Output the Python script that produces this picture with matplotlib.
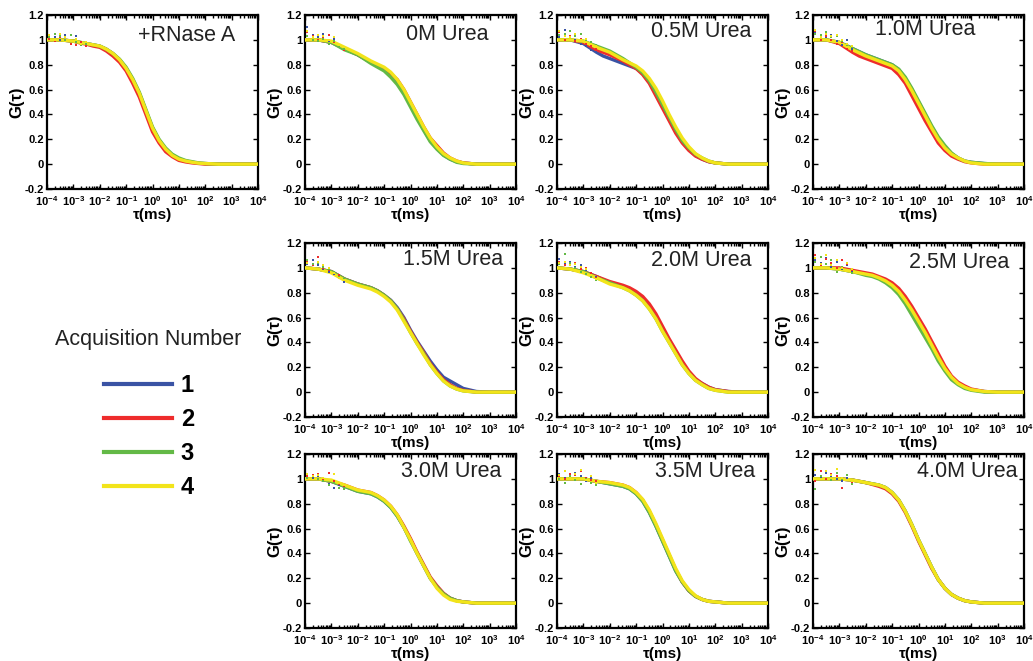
import matplotlib
matplotlib.use('Agg')
import matplotlib.pyplot as plt
from matplotlib.lines import Line2D
from matplotlib.ticker import FixedLocator, LogLocator, NullFormatter

plt.rcParams['font.family'] = ['Liberation Sans', 'DejaVu Sans']
plt.rcParams['mathtext.fontset'] = 'custom'
plt.rcParams['mathtext.rm'] = 'Liberation Sans:bold'
plt.rcParams['mathtext.it'] = 'Liberation Sans:bold'
plt.rcParams['mathtext.bf'] = 'Liberation Sans:bold'

# lag times (ms): quarter decades from 1e-3 to 1e2, half decades outside
tau_ms = [1e-4, 3.16e-4, 1e-3, 1.78e-3, 3.16e-3, 5.62e-3, 1e-2, 1.78e-2, 3.16e-2, 5.62e-2,
          0.1, 0.178, 0.316, 0.562, 1.0, 1.78, 3.16, 5.62, 10.0, 17.8, 31.6, 56.2, 100.0,
          316.0, 1e3, 3.16e3, 1e4]
# lag times of the noisy early points
tau_dots = [1.2e-4, 2e-4, 3e-4, 5e-4, 8e-4, 1.3e-3, 2e-3, 3e-3]

acq_labels = ['1', '2', '3', '4']
acq_colors = ['#3A53A4', '#EE2C2C', '#63B946', '#F2E41A']

# normalised G(tau), one row per acquisition (1..4)
g_rnase = [[1.00, 1.00, 0.99, 0.98, 0.97, 0.96, 0.95, 0.925, 0.89, 0.84, 0.77, 0.68, 0.57, 0.43, 0.29, 0.19, 0.12, 0.07, 0.04, 0.025, 0.015, 0.008, 0.005, 0.0, 0.0, 0.0, 0.0],
           [1.00, 1.00, 0.99, 0.975, 0.965, 0.95, 0.94, 0.91, 0.87, 0.82, 0.75, 0.65, 0.54, 0.40, 0.26, 0.17, 0.10, 0.06, 0.03, 0.018, 0.01, 0.005, 0.0, 0.0, 0.0, 0.0, 0.0],
           [1.00, 1.00, 0.99, 0.98, 0.97, 0.96, 0.95, 0.925, 0.89, 0.845, 0.78, 0.69, 0.58, 0.44, 0.30, 0.20, 0.13, 0.08, 0.05, 0.03, 0.02, 0.01, 0.005, 0.0, 0.0, 0.0, 0.0],
           [1.00, 1.00, 0.99, 0.98, 0.97, 0.96, 0.95, 0.925, 0.89, 0.84, 0.77, 0.68, 0.57, 0.43, 0.29, 0.19, 0.12, 0.07, 0.04, 0.025, 0.015, 0.008, 0.005, 0.0, 0.0, 0.0, 0.0]]
g_0m = [[1.00, 1.00, 0.98, 0.955, 0.93, 0.905, 0.88, 0.85, 0.82, 0.79, 0.76, 0.72, 0.66, 0.58, 0.48, 0.38, 0.28, 0.19, 0.13, 0.075, 0.04, 0.02, 0.01, 0.0, 0.0, 0.0, 0.0],
        [1.00, 1.00, 0.98, 0.955, 0.93, 0.905, 0.88, 0.85, 0.82, 0.795, 0.77, 0.73, 0.68, 0.60, 0.50, 0.40, 0.30, 0.21, 0.15, 0.09, 0.05, 0.025, 0.01, 0.0, 0.0, 0.0, 0.0],
        [1.00, 1.00, 0.98, 0.95, 0.92, 0.90, 0.88, 0.845, 0.81, 0.78, 0.75, 0.70, 0.64, 0.56, 0.46, 0.36, 0.27, 0.18, 0.12, 0.07, 0.04, 0.015, 0.005, 0.0, 0.0, 0.0, 0.0],
        [1.00, 1.00, 0.99, 0.965, 0.94, 0.915, 0.89, 0.86, 0.83, 0.805, 0.78, 0.74, 0.68, 0.60, 0.50, 0.40, 0.30, 0.21, 0.14, 0.085, 0.05, 0.025, 0.01, 0.0, 0.0, 0.0, 0.0]]
g_05m = [[1.00, 1.00, 0.97, 0.935, 0.90, 0.87, 0.85, 0.83, 0.81, 0.79, 0.77, 0.73, 0.66, 0.57, 0.47, 0.37, 0.27, 0.18, 0.12, 0.07, 0.04, 0.02, 0.01, 0.0, 0.0, 0.0, 0.0],
         [1.00, 1.00, 0.98, 0.95, 0.92, 0.90, 0.88, 0.855, 0.83, 0.80, 0.77, 0.72, 0.65, 0.55, 0.45, 0.35, 0.25, 0.17, 0.11, 0.065, 0.04, 0.02, 0.01, 0.0, 0.0, 0.0, 0.0],
         [1.00, 1.00, 0.99, 0.97, 0.95, 0.93, 0.91, 0.88, 0.85, 0.815, 0.78, 0.735, 0.67, 0.58, 0.48, 0.38, 0.28, 0.19, 0.13, 0.08, 0.05, 0.025, 0.01, 0.0, 0.0, 0.0, 0.0],
         [1.00, 1.00, 0.99, 0.965, 0.94, 0.92, 0.90, 0.87, 0.84, 0.815, 0.79, 0.75, 0.69, 0.61, 0.51, 0.40, 0.30, 0.21, 0.14, 0.085, 0.05, 0.025, 0.01, 0.0, 0.0, 0.0, 0.0]]
g_10m = [[1.00, 1.00, 0.98, 0.955, 0.93, 0.905, 0.88, 0.86, 0.84, 0.82, 0.80, 0.76, 0.69, 0.60, 0.50, 0.40, 0.30, 0.21, 0.14, 0.085, 0.05, 0.025, 0.015, 0.005, 0.0, 0.0, 0.0],
         [1.00, 1.00, 0.97, 0.935, 0.90, 0.87, 0.85, 0.83, 0.81, 0.79, 0.77, 0.72, 0.65, 0.55, 0.45, 0.35, 0.26, 0.17, 0.11, 0.065, 0.04, 0.02, 0.01, 0.0, 0.0, 0.0, 0.0],
         [1.00, 1.00, 0.98, 0.955, 0.93, 0.905, 0.88, 0.86, 0.84, 0.82, 0.80, 0.765, 0.70, 0.61, 0.51, 0.41, 0.31, 0.22, 0.15, 0.09, 0.05, 0.025, 0.015, 0.005, 0.0, 0.0, 0.0],
         [1.00, 1.00, 0.98, 0.95, 0.92, 0.895, 0.87, 0.85, 0.83, 0.81, 0.79, 0.75, 0.68, 0.59, 0.49, 0.39, 0.29, 0.20, 0.13, 0.08, 0.05, 0.025, 0.01, 0.0, 0.0, 0.0, 0.0]]
g_15m = [[1.00, 0.99, 0.97, 0.94, 0.91, 0.89, 0.87, 0.855, 0.84, 0.815, 0.78, 0.74, 0.68, 0.60, 0.50, 0.41, 0.33, 0.25, 0.18, 0.12, 0.09, 0.06, 0.03, 0.005, 0.0, 0.0, 0.0],
         [1.00, 0.99, 0.97, 0.94, 0.91, 0.89, 0.87, 0.855, 0.84, 0.815, 0.78, 0.735, 0.67, 0.59, 0.49, 0.40, 0.32, 0.23, 0.16, 0.10, 0.06, 0.03, 0.015, 0.0, 0.0, 0.0, 0.0],
         [1.00, 0.99, 0.97, 0.94, 0.91, 0.89, 0.87, 0.855, 0.84, 0.815, 0.78, 0.735, 0.67, 0.58, 0.48, 0.39, 0.31, 0.22, 0.15, 0.09, 0.05, 0.025, 0.01, 0.0, 0.0, 0.0, 0.0],
         [1.00, 0.99, 0.96, 0.93, 0.90, 0.88, 0.86, 0.845, 0.83, 0.805, 0.77, 0.725, 0.66, 0.57, 0.48, 0.39, 0.30, 0.22, 0.15, 0.09, 0.05, 0.025, 0.01, 0.0, 0.0, 0.0, 0.0]]
g_20m = [[1.00, 0.99, 0.97, 0.95, 0.93, 0.905, 0.88, 0.865, 0.85, 0.825, 0.79, 0.745, 0.68, 0.60, 0.51, 0.41, 0.32, 0.23, 0.16, 0.10, 0.07, 0.04, 0.02, 0.005, 0.0, 0.0, 0.0],
         [1.00, 0.99, 0.97, 0.95, 0.93, 0.91, 0.89, 0.875, 0.86, 0.84, 0.81, 0.77, 0.71, 0.63, 0.53, 0.43, 0.34, 0.25, 0.17, 0.11, 0.07, 0.04, 0.02, 0.005, 0.0, 0.0, 0.0],
         [1.00, 0.99, 0.97, 0.945, 0.92, 0.90, 0.88, 0.86, 0.84, 0.815, 0.78, 0.735, 0.67, 0.59, 0.49, 0.40, 0.31, 0.22, 0.15, 0.095, 0.06, 0.03, 0.015, 0.0, 0.0, 0.0, 0.0],
         [1.00, 0.99, 0.96, 0.94, 0.92, 0.895, 0.87, 0.855, 0.84, 0.815, 0.78, 0.735, 0.67, 0.59, 0.49, 0.40, 0.31, 0.22, 0.15, 0.095, 0.06, 0.03, 0.015, 0.0, 0.0, 0.0, 0.0]]
g_25m = [[1.00, 1.00, 0.99, 0.98, 0.97, 0.96, 0.95, 0.94, 0.92, 0.895, 0.86, 0.81, 0.74, 0.66, 0.57, 0.48, 0.38, 0.28, 0.19, 0.12, 0.07, 0.04, 0.02, 0.005, 0.0, 0.0, 0.0],
         [1.00, 1.00, 1.00, 0.99, 0.98, 0.97, 0.96, 0.95, 0.93, 0.91, 0.88, 0.835, 0.77, 0.69, 0.60, 0.51, 0.41, 0.31, 0.21, 0.13, 0.08, 0.05, 0.025, 0.005, 0.0, 0.0, 0.0],
         [1.00, 1.00, 0.99, 0.98, 0.97, 0.955, 0.94, 0.93, 0.91, 0.88, 0.84, 0.785, 0.71, 0.62, 0.53, 0.44, 0.35, 0.25, 0.17, 0.10, 0.06, 0.03, 0.015, 0.0, 0.0, 0.0, 0.0],
         [1.00, 1.00, 0.99, 0.98, 0.97, 0.96, 0.95, 0.94, 0.92, 0.895, 0.86, 0.81, 0.74, 0.66, 0.57, 0.48, 0.38, 0.28, 0.19, 0.12, 0.07, 0.04, 0.02, 0.005, 0.0, 0.0, 0.0]]
g_30m = [[1.00, 1.00, 0.98, 0.96, 0.94, 0.92, 0.90, 0.89, 0.88, 0.855, 0.82, 0.77, 0.70, 0.61, 0.51, 0.40, 0.30, 0.20, 0.13, 0.075, 0.04, 0.02, 0.01, 0.0, 0.0, 0.0, 0.0],
         [1.00, 1.00, 0.98, 0.965, 0.95, 0.93, 0.91, 0.90, 0.89, 0.865, 0.83, 0.78, 0.71, 0.62, 0.52, 0.41, 0.31, 0.21, 0.14, 0.08, 0.04, 0.02, 0.01, 0.0, 0.0, 0.0, 0.0],
         [1.00, 1.00, 0.98, 0.96, 0.94, 0.92, 0.90, 0.89, 0.88, 0.855, 0.82, 0.77, 0.70, 0.61, 0.50, 0.40, 0.30, 0.20, 0.13, 0.075, 0.04, 0.02, 0.01, 0.0, 0.0, 0.0, 0.0],
         [1.00, 1.00, 0.99, 0.97, 0.95, 0.93, 0.91, 0.90, 0.89, 0.865, 0.83, 0.78, 0.71, 0.61, 0.51, 0.40, 0.30, 0.20, 0.12, 0.065, 0.03, 0.015, 0.01, 0.0, 0.0, 0.0, 0.0]]
g_35m = [[1.00, 1.00, 1.00, 0.99, 0.98, 0.97, 0.96, 0.95, 0.94, 0.92, 0.88, 0.82, 0.73, 0.62, 0.50, 0.38, 0.26, 0.17, 0.10, 0.055, 0.03, 0.015, 0.01, 0.0, 0.0, 0.0, 0.0],
         [1.00, 1.00, 1.00, 0.99, 0.98, 0.975, 0.97, 0.96, 0.95, 0.93, 0.89, 0.83, 0.74, 0.63, 0.51, 0.39, 0.27, 0.17, 0.10, 0.055, 0.03, 0.015, 0.01, 0.0, 0.0, 0.0, 0.0],
         [1.00, 1.00, 1.00, 0.99, 0.98, 0.97, 0.96, 0.95, 0.94, 0.92, 0.88, 0.82, 0.73, 0.62, 0.50, 0.38, 0.26, 0.17, 0.10, 0.055, 0.03, 0.015, 0.01, 0.0, 0.0, 0.0, 0.0],
         [1.00, 1.00, 1.00, 0.99, 0.98, 0.975, 0.97, 0.96, 0.95, 0.93, 0.89, 0.835, 0.75, 0.64, 0.52, 0.40, 0.28, 0.18, 0.11, 0.06, 0.03, 0.015, 0.01, 0.0, 0.0, 0.0, 0.0]]
g_40m = [[1.00, 1.00, 1.00, 0.995, 0.99, 0.98, 0.97, 0.96, 0.95, 0.93, 0.89, 0.83, 0.74, 0.63, 0.51, 0.40, 0.29, 0.19, 0.12, 0.07, 0.04, 0.02, 0.01, 0.0, 0.0, 0.0, 0.0],
         [1.00, 1.00, 1.00, 0.995, 0.99, 0.98, 0.97, 0.955, 0.94, 0.92, 0.88, 0.82, 0.73, 0.62, 0.50, 0.39, 0.28, 0.19, 0.12, 0.07, 0.04, 0.02, 0.01, 0.0, 0.0, 0.0, 0.0],
         [1.00, 1.00, 1.00, 0.995, 0.99, 0.98, 0.97, 0.96, 0.95, 0.93, 0.89, 0.83, 0.74, 0.63, 0.51, 0.40, 0.29, 0.19, 0.12, 0.07, 0.04, 0.02, 0.01, 0.0, 0.0, 0.0, 0.0],
         [1.00, 1.00, 1.00, 0.995, 0.99, 0.98, 0.97, 0.96, 0.95, 0.93, 0.89, 0.83, 0.74, 0.63, 0.51, 0.40, 0.29, 0.19, 0.12, 0.07, 0.04, 0.02, 0.01, 0.0, 0.0, 0.0, 0.0]]

# scattered early-time points, one row per acquisition
d_rnase = [[1.03, 1.02, 1.00, 1.04, 0.99, 1.03, 0.97, 0.98], [1.01, 0.99, 1.02, 1.00, 0.97, 0.96, 0.98, 0.95],
           [1.02, 1.05, 1.03, 1.00, 1.04, 0.98, 0.96, 0.97], [1.04, 1.00, 1.05, 1.02, 0.99, 1.01, 0.97, 0.98]]
d_0m = [[1.10, 1.04, 1.02, 1.05, 0.99, 1.01, 0.95, 0.93], [1.06, 1.03, 1.00, 1.02, 1.04, 0.98, 0.96, 0.92],
        [1.03, 1.00, 0.99, 1.01, 0.97, 0.99, 0.94, 0.93], [1.07, 1.02, 1.04, 1.03, 1.00, 1.02, 0.96, 0.94]]
d_05m = [[1.02, 1.08, 1.03, 1.00, 0.97, 0.95, 0.92, 0.90], [1.06, 1.00, 1.03, 0.99, 1.01, 0.97, 0.95, 0.93],
         [1.04, 1.05, 1.07, 1.03, 1.05, 1.00, 0.98, 0.96], [1.07, 1.03, 1.02, 1.05, 1.00, 1.01, 0.97, 0.95]]
d_10m = [[1.06, 1.03, 1.02, 1.04, 0.99, 0.96, 1.00, 0.93], [1.07, 1.00, 1.03, 1.00, 0.97, 0.98, 0.93, 0.91],
         [1.05, 1.04, 1.06, 1.02, 1.03, 0.99, 0.96, 0.94], [1.08, 1.02, 1.05, 1.03, 1.04, 1.00, 0.97, 0.95]]
d_15m = [[1.03, 1.06, 1.02, 0.99, 0.97, 0.95, 0.92, 0.89], [1.05, 1.02, 1.09, 1.00, 0.98, 0.96, 0.94, 0.90],
         [1.06, 1.03, 1.04, 1.01, 0.99, 0.97, 0.93, 0.91], [1.04, 1.00, 1.05, 1.02, 1.00, 0.96, 0.92, 0.90]]
d_20m = [[1.07, 1.03, 1.05, 1.01, 1.02, 0.98, 0.95, 0.93], [1.05, 1.02, 1.03, 1.04, 0.99, 1.00, 0.96, 0.92],
         [1.03, 1.11, 1.04, 1.00, 0.97, 0.95, 0.93, 0.90], [1.04, 1.05, 1.02, 1.03, 1.01, 0.99, 0.94, 0.91]]
d_25m = [[1.06, 1.04, 1.08, 1.01, 1.05, 0.99, 1.02, 0.97], [1.10, 1.02, 1.07, 1.04, 1.00, 1.06, 1.03, 0.98],
         [1.05, 1.09, 1.03, 1.06, 0.97, 1.01, 1.04, 0.96], [1.08, 1.03, 1.10, 1.02, 1.06, 1.00, 1.04, 0.99]]
d_30m = [[1.03, 1.01, 1.02, 0.99, 0.96, 0.93, 0.95, 0.92], [1.02, 1.03, 1.04, 1.00, 1.05, 0.98, 0.96, 0.94],
         [1.01, 1.02, 1.00, 0.98, 0.95, 0.97, 0.93, 0.92], [1.04, 1.02, 1.03, 1.01, 0.99, 1.04, 0.97, 0.95]]
d_35m = [[1.04, 1.01, 1.03, 1.05, 1.02, 0.98, 1.01, 0.97], [1.02, 1.00, 1.04, 1.03, 1.06, 1.01, 0.99, 0.98],
         [1.00, 0.97, 1.02, 0.99, 0.96, 1.00, 0.97, 0.95], [1.03, 1.06, 1.01, 1.04, 1.07, 0.99, 1.02, 0.97]]
d_40m = [[1.03, 1.01, 1.05, 1.02, 1.00, 0.98, 1.01, 0.97], [0.98, 1.06, 1.00, 1.04, 1.02, 0.93, 0.99, 0.97],
         [0.92, 1.02, 1.06, 0.99, 1.05, 1.00, 1.03, 0.96], [1.07, 1.00, 1.06, 1.03, 1.08, 1.01, 0.99, 0.98]]

panel_titles = ['+RNase A', '0M Urea', '0.5M Urea', '1.0M Urea', '1.5M Urea',
                '2.0M Urea', '2.5M Urea', '3.0M Urea', '3.5M Urea', '4.0M Urea']
panel_curves = [g_rnase, g_0m, g_05m, g_10m, g_15m, g_20m, g_25m, g_30m, g_35m, g_40m]
panel_dots = [d_rnase, d_0m, d_05m, d_10m, d_15m, d_20m, d_25m, d_30m, d_35m, d_40m]

y_ticks = [-0.2, 0, 0.2, 0.4, 0.6, 0.8, 1.0, 1.2]
y_ticklabels = ['-0.2', '0', '0.2', '0.4', '0.6', '0.8', '1', '1.2']
x_ticks = [1e-4, 1e-3, 1e-2, 1e-1, 1e0, 1e1, 1e2, 1e3, 1e4]
x_ticklabels = [r'$10^{%d}$' % e for e in range(-4, 5)]

# layout (pixels): grid slot of each panel, axes geometry, title anchor
W, H = 1033, 661
col_left = [47, 305, 557, 813]
row_top = [15, 243, 454]
ax_w, ax_h = 211, 174
slots = [(0, 0), (0, 1), (0, 2), (0, 3), (1, 1), (1, 2), (1, 3), (2, 1), (2, 2), (2, 3)]
title_xy = [(0.89, 0.885), (0.87, 0.89), (0.92, 0.905), (0.77, 0.915), (0.94, 0.905),
            (0.92, 0.90), (0.93, 0.89), (0.93, 0.90), (0.94, 0.90), (0.97, 0.90)]

fig = plt.figure(figsize=(W / 100, H / 100), dpi=100)

for i, title in enumerate(panel_titles):
    r, c = slots[i]
    rect = [col_left[c] / W, 1 - (row_top[r] + ax_h) / H, ax_w / W, ax_h / H]
    ax = fig.add_axes(rect)
    for k in range(4):
        ax.plot(tau_ms, panel_curves[i][k], color=acq_colors[k], lw=2.4,
                solid_joinstyle='round', zorder=2 + k)
        ax.plot(tau_dots, panel_dots[i][k], ls='none', marker='s', ms=1.8,
                mew=0, color=acq_colors[k], zorder=6)
    ax.set_xscale('log')
    ax.set_xlim(1e-4, 1e4)
    ax.set_ylim(-0.2, 1.2)
    ax.xaxis.set_major_locator(FixedLocator(x_ticks))
    ax.set_xticklabels(x_ticklabels)
    ax.xaxis.set_minor_locator(LogLocator(base=10, subs=range(2, 10), numticks=20))
    ax.xaxis.set_minor_formatter(NullFormatter())
    ax.set_yticks(y_ticks)
    ax.set_yticklabels(y_ticklabels, fontweight='bold')
    ax.tick_params(which='both', direction='in', top=True, right=True,
                   labelsize=8, width=1.0)
    ax.tick_params(axis='x', which='major', pad=3.5)
    ax.tick_params(axis='y', which='major', pad=2)
    ax.tick_params(which='major', length=3.5)
    ax.tick_params(which='minor', length=2)
    for sp in ax.spines.values():
        sp.set_linewidth(1.6)
    ax.set_xlabel('τ(ms)', fontsize=11, fontweight='bold', labelpad=0)
    ax.set_ylabel('G(τ)', fontsize=12, fontweight='bold', labelpad=0)
    ax.text(title_xy[i][0], title_xy[i][1], title, transform=ax.transAxes,
            ha='right', va='center', fontsize=15.5, color='#222222', zorder=10)

fig.text(148 / W, 1 - 339 / H, 'Acquisition Number', ha='center', va='center',
         fontsize=15.5, color='#222222')
handles = [Line2D([], [], color=col, lw=3) for col in acq_colors]
fig.legend(handles, acq_labels, loc='upper center',
           bbox_to_anchor=(149 / W, 1 - 353 / H), frameon=False,
           prop={'size': 17, 'weight': 'bold'},
           handlelength=2.9, handletextpad=0.35, labelspacing=0.46)

fig.savefig('out.png', dpi=100)
